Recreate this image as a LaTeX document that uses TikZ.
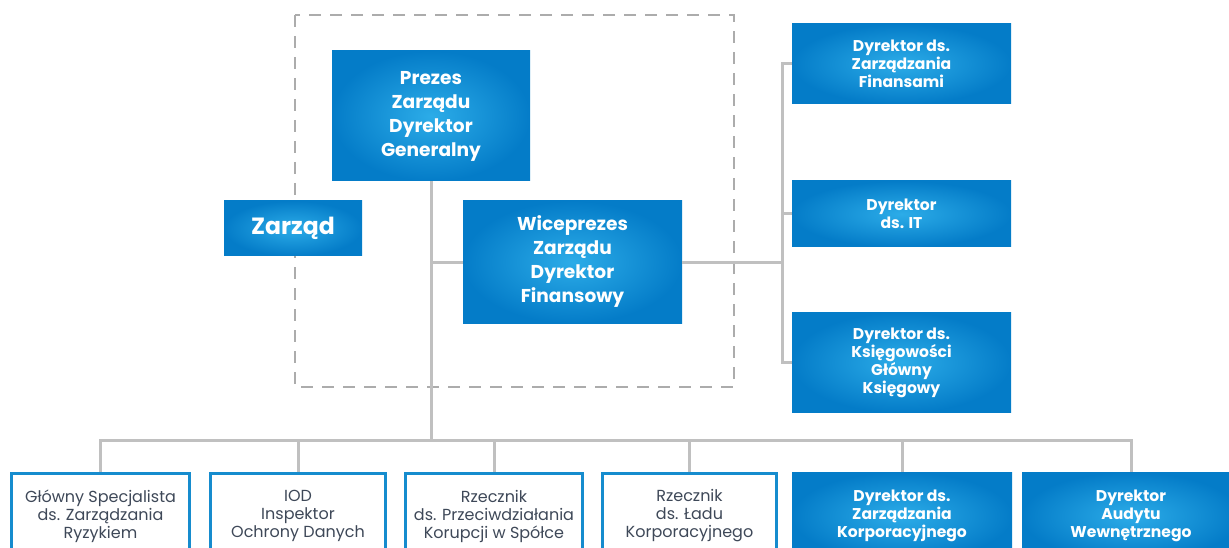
\documentclass[tikz,border=0pt]{standalone}
\usepackage{fontspec}
\setmainfont{Poppins}
\definecolor{bdark}{RGB}{4,124,200}
\definecolor{blight}{RGB}{44,172,232}
\definecolor{bline}{RGB}{22,140,206}
\definecolor{lgray}{RGB}{192,192,192}
\definecolor{dgray}{RGB}{172,172,172}
\definecolor{tgray}{RGB}{62,72,88}
\begin{document}
\begin{tikzpicture}[x=1pt,y=-1pt,
  bluebox/.style={rectangle,inner sep=0pt,shade,shading=radial,inner color=blight,outer color=bdark,text=white,align=center,font=\bfseries\fontsize{15.6}{18}\selectfont},
  bigbox/.style={bluebox,font=\bfseries\fontsize{18.6}{24}\selectfont},
  linebox/.style={rectangle,inner sep=0pt,draw=bline,line width=3pt,fill=white,text=tgray,align=center,font=\fontsize{16}{18}\selectfont},
  conn/.style={draw=lgray,line width=3pt},
  dashbox/.style={draw=dgray,line width=1.5pt,dash pattern=on 12pt off 9pt}]
\useasboundingbox (0,0) rectangle (1229,548);
\clip (0,0) rectangle (1229,548);
\draw[dashbox] (295,15) rectangle (734,387);
% top group
\node[bigbox,minimum width=198,minimum height=130] (p) at (431,116) {Prezes\\Zarządu\\Dyrektor\\Generalny};
\node[bluebox,font=\bfseries\fontsize{23.5}{26}\selectfont,minimum width=138,minimum height=55] (z) at (293,228.5) {Zarząd};
\node[bigbox,minimum width=219,minimum height=122] (w) at (572.5,262) {Wiceprezes\\Zarządu\\Dyrektor\\Finansowy};
% right column
\node[bluebox,minimum width=219,minimum height=80] (r1) at (901.5,64) {Dyrektor ds.\\Zarządzania\\Finansami};
\node[bluebox,minimum width=219,minimum height=66] (r2) at (901.5,214) {Dyrektor\\ds. IT};
\node[bluebox,minimum width=219,minimum height=100] (r3) at (901.5,362.5) {Dyrektor ds.\\Księgowości\\Główny\\Księgowy};
% bottom row
\node[linebox,minimum width=178,minimum height=86] (b1) at (100.5,516) {Główny Specjalista\\ds. Zarządzania\\Ryzykiem};
\node[linebox,minimum width=175,minimum height=86] (b2) at (298,516) {IOD\\Inspektor\\Ochrony Danych};
\node[linebox,minimum width=177,minimum height=86] (b3) at (494,516) {Rzecznik\\ds. Przeciwdziałania\\Korupcji w Spółce};
\node[linebox,minimum width=174,minimum height=86] (b4) at (689.5,516) {Rzecznik\\ds. Ładu\\Korporacyjnego};
\node[bluebox,minimum width=220,minimum height=88] (b5) at (902,516) {Dyrektor ds.\\Zarządzania\\Korporacyjnego};
\node[bluebox,minimum width=218,minimum height=88] (b6) at (1131,516) {Dyrektor\\Audytu\\Wewnętrznego};
% connector coordinates
\coordinate (bus) at (431,440);
\coordinate (jw) at (431,262);
\coordinate (rt) at (782,262);
% connectors
\draw[conn] (p.south) -- (bus);
\draw[conn] (jw) -- (w.west);
\draw[conn] (w.east) -- (rt);
\draw[conn] (r1.west) -| (rt) |- (r3.west);
\draw[conn] (r2.west) -- (r2.west -| rt);
\draw[conn] (b1.north) |- (bus) -| (b6.north);
\foreach \b in {b2,b3,b4,b5}{\draw[conn] (\b.north) -- (\b.north |- bus);}
\end{tikzpicture}
\end{document}
